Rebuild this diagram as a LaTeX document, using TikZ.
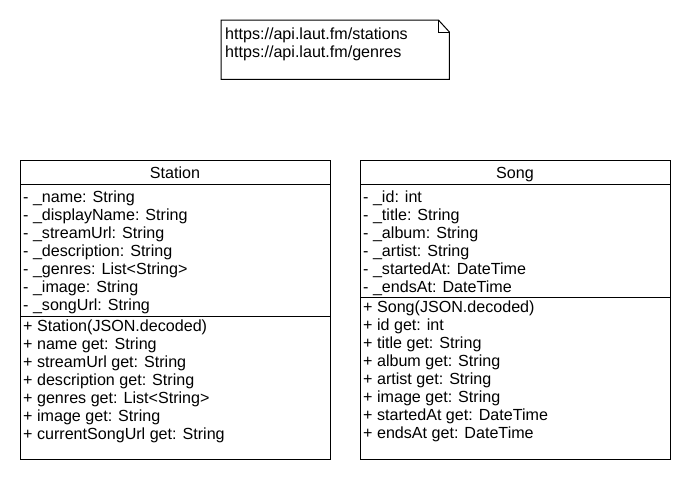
\documentclass[tikz,border=0pt]{standalone}
\usepackage{fontspec}
\setmainfont{Liberation Sans}
\begin{document}
\begin{tikzpicture}[x=1pt,y=-1pt,
  umlbox/.style={draw, line width=1pt, anchor=north west, inner sep=0pt, minimum width=310pt, minimum height=299pt},
  ln/.style={anchor=base west, inner sep=0pt, font=\fontsize{16.1}{18}\selectfont},
  ttl/.style={anchor=base, inner sep=0pt, font=\fontsize{16.1}{18}\selectfont},
  sepline/.style={line width=1pt},
  noteline/.style={line width=1pt, line join=miter}]
\useasboundingbox (0,0) rectangle (690,480);

% note
\node[anchor=north west, inner sep=0pt, minimum width=228pt, minimum height=59pt] (note) at (221,20) {};
\draw[noteline] (note.north west) -- ([xshift=-11pt]note.north east) -- ([yshift=-12pt]note.north east) -- (note.south east) -- (note.south west) -- cycle;
\draw[noteline] ([xshift=-11pt]note.north east) -- ([xshift=-11pt,yshift=-12pt]note.north east) -- ([yshift=-12pt]note.north east);
\node[ln] (n1) at (225,39.5) {https://api.laut.fm/stations};
\node[ln] (n2) at (225,57.5) {https://api.laut.fm/genres};

% Station
\node[umlbox] (station) at (20,160) {};
\node[ttl] (stitle) at (175,178) {Station};
\draw[sepline] ([yshift=-24.5pt]station.north west) -- ([yshift=-24.5pt]station.north east);
\draw[sepline] ([yshift=-156pt]station.north west) -- ([yshift=-156pt]station.north east);
\foreach \t [count=\i from 0] in {- \_name: String, - \_displayName: String, - \_streamUrl: String, - \_description: String, - \_genres: List<String>, - \_image: String, - \_songUrl: String}
  \node[ln] (sa\i) at (23,202+18*\i) {\t};
\foreach \t [count=\i from 0] in {+ Station(JSON.decoded), + name get: String, + streamUrl get: String, + description get: String, + genres get: List<String>, + image get: String, + currentSongUrl get: String}
  \node[ln] (sm\i) at (23,331.5+18*\i) {\t};

% Song
\node[umlbox] (song) at (360,160) {};
\node[ttl] (gtitle) at (515,178) {Song};
\draw[sepline] ([yshift=-24.5pt]song.north west) -- ([yshift=-24.5pt]song.north east);
\draw[sepline] ([yshift=-137pt]song.north west) -- ([yshift=-137pt]song.north east);
\foreach \t [count=\i from 0] in {- \_id: int, - \_title: String, - \_album: String, - \_artist: String, - \_startedAt: DateTime, - \_endsAt: DateTime}
  \node[ln] (ga\i) at (363,202+18*\i) {\t};
\foreach \t [count=\i from 0] in {+ Song(JSON.decoded), + id get: int, + title get: String, + album get: String, + artist get: String, + image get: String, + startedAt get: DateTime, + endsAt get: DateTime}
  \node[ln] (gm\i) at (363,312.5+18*\i) {\t};
\end{tikzpicture}
\end{document}
